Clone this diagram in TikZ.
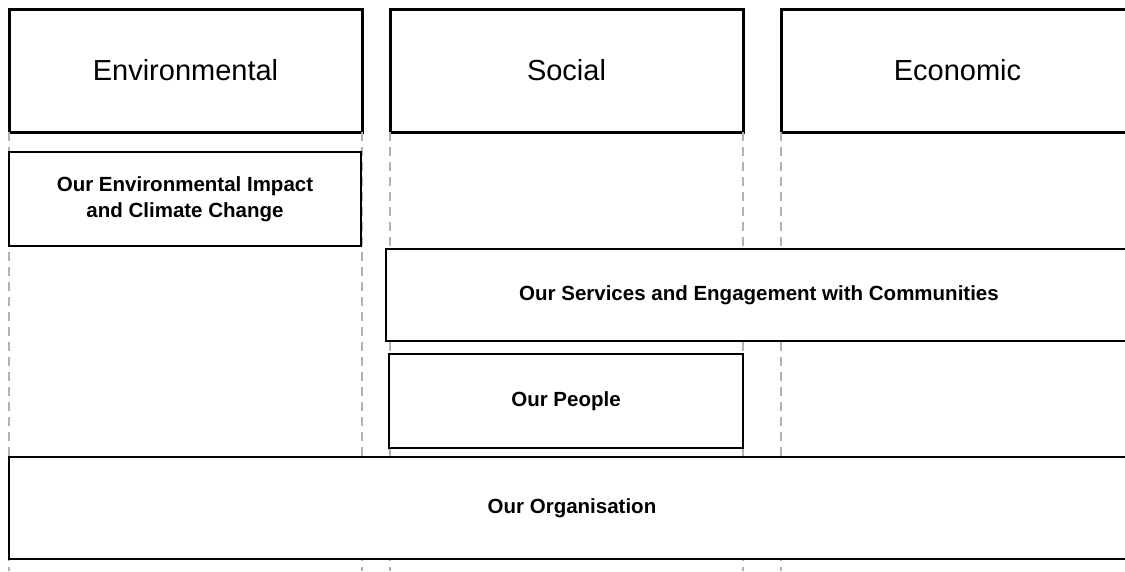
\documentclass[tikz,border=0pt]{standalone}
\usepackage{fontspec}
\setmainfont{Liberation Sans}

\begin{document}
\begin{tikzpicture}[x=1pt,y=-1pt,
	pillar/.style={draw,line width=3pt,fill=white,inner sep=0,outer sep=0,minimum width=353pt,minimum height=123pt,font=\fontsize{29}{33}\selectfont},
	theme/.style={draw,line width=1.3pt,fill=white,inner sep=0,outer sep=0,align=center,font=\fontsize{20.5}{26}\selectfont\bfseries},
	guide/.style={draw=black!30,line width=1.2pt,dash pattern=on 9pt off 6pt}]
	\useasboundingbox[fill=white] (0,0) rectangle (1125,571);
	\coordinate (bottom) at (0,571);
	\node[pillar] (env) at (185.5,70.5) {Environmental};
	\node[pillar] (soc) at (566.5,70.5) {Social};
	\node[pillar] (eco) at (957.5,70.5) {Economic};
	\draw[guide] (env.south west) -- (env.south west |- bottom);
	\draw[guide] (env.south east) -- (env.south east |- bottom);
	\draw[guide] (soc.south west) -- (soc.south west |- bottom);
	\draw[guide] (soc.south east) -- (soc.south east |- bottom);
	\draw[guide] (eco.south west) -- (eco.south west |- bottom);
	\node[theme,minimum width=352pt,minimum height=94pt] (impact) at (185,199) {Our Environmental Impact\\and Climate Change};
	\node[theme,minimum width=746pt,minimum height=92pt] (services) at (759,295) {Our Services and Engagement with Communities};
	\node[theme,minimum width=354pt,minimum height=94pt] (people) at (566,401) {Our People};
	\node[theme,minimum width=1126pt,minimum height=102pt] (org) at (572,508) {Our Organisation};
\end{tikzpicture}
\end{document}
